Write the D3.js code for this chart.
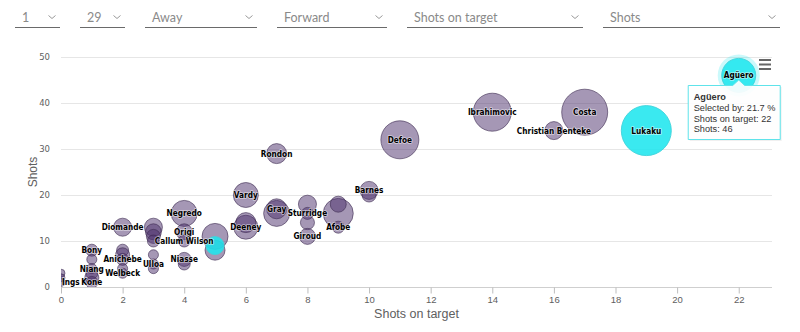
<!DOCTYPE html>
<html><head><meta charset="utf-8">
<script src="https://cdn.jsdelivr.net/npm/d3@7/dist/d3.min.js"></script>
<style>
body{margin:0;background:#fff;}
svg{display:block;}
</style></head><body>
<svg id="c" width="800" height="332"></svg>
<script>
// ---- data ----
const players = ["Costa","Ibrahimovic","Christian Benteke","Defoe","Rondon","Barnes","","Vardy","","Gray","","Sturridge","","Giroud","","","Afobe","Deeney","","Negredo","Origi","Callum Wilson","Niasse","","","","","","","","","Ulloa","","Diomande","","","Anichebe","","Welbeck","Bony","","Niang","","","Kone","","","Ings","","Lukaku","Agüero"];
const shotsOnTarget = [17,14,16,11,7,10,10,6,7,7,8,8,8,8,9,9,9,6,6,4,4,4,4,4,5,5,3,3,3,3,3,3,3,2,2,2,2,2,2,1,1,1,1,1,1,0,0,0,5,19,22];
const shots =         [38,38,34,32,29,21,20,20,16,17,18,16,14,11,16,18,13,13,14,16,12,10,6,5,11,8,13,12,11,10,7,5,4,13,8,7,6,4,3,8,6,4,3,2,1,3,2,1,9,34,46];
const selectedBy =    [39.7,27.1,6.1,27.1,7.5,6.1,3.7,11.7,12.7,7.5,6.1,2.7,3.7,4.8,16.9,4.8,2.7,10.8,7.5,12.7,4.8,2.7,3.7,2.7,12.7,7.5,6.1,4.8,3.7,2.7,1.9,1.9,1.9,6.1,2.7,3.7,2.7,1.9,1.9,2.7,1.9,1.9,2.7,3.7,2.7,1.2,1.2,1.2,6.1,46.9,21.7];
const highlighted =   [0,0,0,0,0,0,0,0,0,0,0,0,0,0,0,0,0,0,0,0,0,0,0,0,0,0,0,0,0,0,0,0,0,0,0,0,0,0,0,0,0,0,0,0,0,0,0,0,1,1,1];
const xTicks = [0,2,4,6,8,10,12,14,16,18,20,22];
const yTicks = [0,10,20,30,40,50];
const filterLabels = ["1","29","Away","Forward","Shots on target","Shots"];
const xTitle = "Shots on target";
const yTitle = "Shots";
const tipPlayer = "Agüero";
const tipSelected = 21.7;

// ---- layout ----
const W = 800, H = 332;
const L = 61, R = 772, T = 40, B = 287;
const svg = d3.select("#c");

const x = d3.scaleLinear().domain([0, 23.08]).range([L, R]);
const y = d3.scaleLinear().domain([0, 50]).range([B, 57]);
const r = d3.scaleSqrt().domain([0, d3.max(selectedBy)]).range([0, 25]);

// filters
const filterBoxes = [[15,60],[80,125],[145,257],[277,387],[407,583],[603,780]];
const fg = svg.append("g");
filterLabels.forEach((t, i) => {
  const [a, b] = filterBoxes[i];
  fg.append("text").attr("x", a + 7).attr("y", 21.5).text(t)
    .attr("font-family", "Lato, 'Open Sans', sans-serif").attr("font-size", 12.5)
    .attr("fill", "#8a8a8a");
  fg.append("line").attr("x1", a).attr("x2", b).attr("y1", 27.5).attr("y2", 27.5)
    .attr("stroke", "#6a6a6a").attr("stroke-width", 1);
  const cx = b - 8;
  fg.append("path").attr("d", `M${cx-3.5},15.5 L${cx},18.5 L${cx+3.5},15.5`)
    .attr("fill", "none").attr("stroke", "#9a9a9a").attr("stroke-width", 1);
});

// grid
const grid = svg.append("g");
grid.selectAll("line").data(yTicks.filter(v => v > 0)).join("line")
  .attr("x1", L).attr("x2", R).attr("y1", d => Math.round(y(d)) + 0.5).attr("y2", d => Math.round(y(d)) + 0.5)
  .attr("stroke", "#e6e6e6");

// y axis labels
svg.append("g").selectAll("text").data(yTicks).join("text")
  .attr("x", 50).attr("y", d => y(d) + 3).attr("text-anchor", "end")
  .attr("font-family", "'DejaVu Sans', sans-serif").attr("font-size", 8.5)
  .attr("fill", "#606060").text(d => d);

// x axis
const xAxis = d3.axisBottom(x).tickValues(xTicks).tickSize(6).tickPadding(3);
const xg = svg.append("g").attr("transform", `translate(0,${B + 0.5})`).call(xAxis);
xg.select(".domain").attr("d", `M${L},0H${R}`).attr("stroke", "#cfcfcf");
xg.selectAll(".tick line").attr("stroke", "#bdbdbd");
xg.selectAll(".tick text").attr("font-family", "'Liberation Sans Narrow','Liberation Sans', sans-serif")
  .attr("font-size", 9.5).attr("fill", "#606060");

// titles
svg.append("text").attr("x", (L + R) / 2).attr("y", 318).attr("text-anchor", "middle")
  .attr("font-family", "'Liberation Sans', sans-serif").attr("font-size", 12.5).attr("fill", "#606060").text(xTitle);
svg.append("text").attr("transform", `translate(37,${(y(0)+y(50))/2}) rotate(-90)`).attr("text-anchor", "middle")
  .attr("font-family", "'Liberation Sans', sans-serif").attr("font-size", 12).attr("fill", "#606060").text(yTitle);

// clip
svg.append("clipPath").attr("id", "clip").append("rect")
  .attr("x", L).attr("y", T).attr("width", R - L).attr("height", B - T);

const pts = players.map((n, i) => ({ name: n, sx: shotsOnTarget[i], sy: shots[i], sel: selectedBy[i], hl: highlighted[i] === 1 }));
const plot = svg.append("g").attr("clip-path", "url(#clip)");

// halo on tooltip point
const tipPt = pts.find(p => p.name === tipPlayer);
plot.append("circle").attr("cx", x(tipPt.sx)).attr("cy", y(tipPt.sy)).attr("r", r(tipPt.sel) + 4)
  .attr("fill", "#2ee6ee").attr("fill-opacity", 0.25);

plot.selectAll("circle.b").data(pts.filter(p => !p.hl).concat(pts.filter(p => p.hl))).join("circle")
  .attr("class", "b")
  .attr("cx", d => x(d.sx)).attr("cy", d => y(d.sy)).attr("r", d => r(d.sel))
  .attr("fill", d => d.hl ? "#1fe6ee" : "#4b2f6b")
  .attr("fill-opacity", d => d.hl ? 0.88 : 0.5)
  .attr("stroke", d => d.hl ? "#3fd3da" : "#3c2a50")
  .attr("stroke-opacity", d => d.hl ? 0.9 : 0.6)
  .attr("stroke-width", 1);

// labels
const lab = svg.append("g").selectAll("text").data(pts.filter(p => p.name)).join("text")
  .attr("y", d => y(d.sy) + 3)
  .attr("text-anchor", "middle")
  .attr("font-family", "'DejaVu Sans Condensed','DejaVu Sans', sans-serif")
  .attr("font-stretch", "condensed")
  .attr("font-weight", "bold").attr("font-size", 8.2)
  .attr("fill", "#000")
  .attr("stroke", "#fff").attr("stroke-width", 1.6).attr("stroke-opacity", 0.55)
  .attr("stroke-linejoin", "round")
  .attr("paint-order", "stroke")
  .text(d => d.name);
lab.attr("x", function(d) {
  const w = this.getComputedTextLength();
  let cx = x(d.sx);
  if (cx - w / 2 < L + 1) cx = L + 1 + w / 2;
  return cx;
});

// hamburger
const hb = svg.append("g");
[59, 63.5, 68].forEach(yy => hb.append("rect").attr("x", 759).attr("y", yy).attr("width", 12).attr("height", 2).attr("fill", "#666"));

// tooltip
const tx = x(tipPt.sx), ty = y(tipPt.sy);
const bx = tx - 51, by = 85, bw = 92, bh = 54;
const tg = svg.append("g");
tg.append("path")
  .attr("d", `M${bx+0.5},${by+0.5} H${tx-6} L${tx},${by-5} L${tx+6},${by+0.5} H${bx+bw+0.5} V${by+bh+0.5} H${bx+0.5} Z`)
  .attr("fill", "#000").attr("fill-opacity", 0.06).attr("transform", "translate(1.5,1.5)");
tg.append("path")
  .attr("d", `M${bx+0.5},${by+0.5} H${tx-6} L${tx},${by-5} L${tx+6},${by+0.5} H${bx+bw+0.5} V${by+bh+0.5} H${bx+0.5} Z`)
  .attr("fill", "#fff").attr("fill-opacity", 0.92).attr("stroke", "#5fe3ea").attr("stroke-width", 1);
const lines = [
  [tipPlayer, true],
  [`Selected by: ${tipSelected} %`, false],
  [`Shots on target: ${tipPt.sx}`, false],
  [`Shots: ${tipPt.sy}`, false]
];
lines.forEach(([t, b], i) => {
  tg.append("text").attr("x", bx + 6).attr("y", by + 15 + i * 10.8).text(t)
    .attr("font-family", "'Liberation Sans', sans-serif").attr("font-size", 9.2)
    .attr("font-weight", b ? "bold" : "normal").attr("fill", "#333");
});
</script>
</body></html>
